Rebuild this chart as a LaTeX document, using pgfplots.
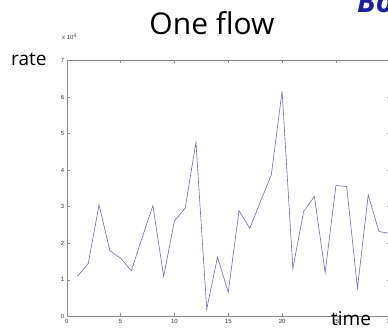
\documentclass[border=0pt]{standalone}
\usepackage{pgfplots}
\pgfplotsset{compat=1.18}
\usepackage{fontspec}
\setmainfont{Liberation Sans}
\newfontfamily\comic{Open Sans}
\definecolor{linec}{HTML}{6E6EAA}
\definecolor{boxc}{HTML}{8C8C8C}
\definecolor{boblue}{HTML}{1E1EA0}
\begin{document}
\begin{tikzpicture}[x=1pt,y=1pt]
\useasboundingbox (0,0) rectangle (388,327);
\clip (0,0) rectangle (388,327);
\begin{axis}[
  at={(62,29)}, anchor=south west,
  scale only axis, width=323pt, height=256pt,
  xmin=0, xmax=30, ymin=0, ymax=70000,
  xtick={0,5,...,30}, ytick={0,10000,...,70000},
  scaled y ticks=base 10:-4,
  ytick scale label code/.code={},
  tick align=inside, major tick length=3pt,
  axis line style={boxc, line width=0.5pt},
  every tick/.style={boxc, line width=0.4pt},
  tick label style={font=\fontsize{6}{6}\selectfont, text=black!80},
  /pgf/number format/assume math mode=true,
  xticklabel style={yshift=1pt},
  yticklabel style={xshift=1pt},
  clip=false,
]
\addplot[linec, line width=0.6pt] coordinates {
(1,11000) (2,14500) (3,30500) (4,18000) (5,15900) (6,12500) (7,21500) (8,30300)
(9,10900) (10,26100) (11,29600) (12,47600) (13,2000) (14,16200) (15,6600)
(16,28900) (17,24100) (18,31500) (19,38700) (20,61600) (21,13100) (22,28700)
(23,32800) (24,12000) (25,35800) (26,35500) (27,7700) (28,33200) (29,23200) (30,22700)
};
\end{axis}
\node[anchor=south west, inner sep=0pt, font=\fontsize{6}{6}\selectfont, text=black!80] at (62,287) {x 10\textsuperscript{4}};
\node[anchor=base, inner sep=0pt, font=\comic\fontsize{30}{30}\selectfont] at (212,292) {One flow};
\node[anchor=base west, inner sep=0pt, font=\comic\fontsize{19}{19}\selectfont] at (11,261) {rate};
\node[anchor=base west, inner sep=0pt, font=\comic\fontsize{19}{19}\selectfont] at (331,2) {time};
\node[anchor=base west, inner sep=0pt, font=\comic\bfseries\itshape\fontsize{30}{30}\selectfont, text=boblue] at (357,314) {Bo};
\end{tikzpicture}
\end{document}
